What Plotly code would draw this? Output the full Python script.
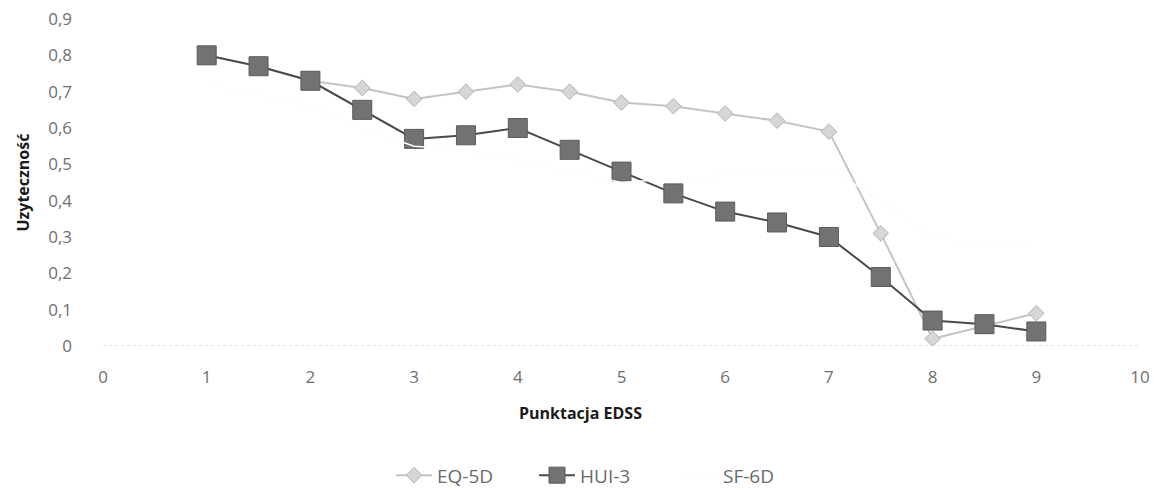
import plotly.graph_objects as go

# EDSS score steps
edss = [1, 1.5, 2, 2.5, 3, 3.5, 4, 4.5, 5, 5.5, 6, 6.5, 7, 7.5, 8, 8.5, 9]

# Mean utility per instrument
eq5d = [0.80, 0.77, 0.73, 0.71, 0.68, 0.70, 0.72, 0.70, 0.67, 0.66, 0.64, 0.62, 0.59, 0.31, 0.02, 0.055, 0.09]
hui3 = [0.80, 0.77, 0.73, 0.65, 0.57, 0.58, 0.60, 0.54, 0.48, 0.42, 0.37, 0.34, 0.30, 0.19, 0.07, 0.06, 0.04]
sf6d = [0.72, 0.69, 0.66, 0.60, 0.55, 0.54, 0.51, 0.48, 0.45, 0.46, 0.47, 0.48, 0.49, 0.40, 0.30, 0.28, 0.27]

x_ticks = list(range(0, 11))
y_ticks = [i / 10 for i in range(0, 10)]
y_tick_text = ["0"] + [f"0,{i}" for i in range(1, 10)]

tick_font = dict(family="Open Sans", size=17, color="#707070")
title_font = dict(family="Open Sans", size=16, color="#1a1a1a", weight="bold")

fig = go.Figure()

fig.add_trace(go.Scatter(
    x=edss, y=eq5d, name="EQ-5D", mode="lines+markers",
    line=dict(color="#c4c4c4", width=2),
    marker=dict(symbol="diamond", size=12, color="#d6d6d6",
                line=dict(color="#b4b4b4", width=1)),
))
fig.add_trace(go.Scatter(
    x=edss, y=hui3, name="HUI-3", mode="lines+markers",
    line=dict(color="#4a4a4a", width=2),
    marker=dict(symbol="square", size=19, color="#727272",
                line=dict(color="#5a5a5a", width=1)),
))
fig.add_trace(go.Scatter(
    x=edss, y=sf6d, name="SF-6D", mode="lines",
    line=dict(color="#fdfdfd", width=1.5),
))

# faint dotted baseline along the category axis
fig.add_shape(type="line", xref="x", yref="y", x0=0, x1=10, y0=0, y1=0,
              line=dict(color="#c8c8c8", width=1, dash="dot"), layer="below")

# axis titles
fig.add_annotation(text="Punktacja EDSS", xref="paper", yref="paper",
                   x=0.46, y=-0.205, xanchor="center", yanchor="middle",
                   showarrow=False, font=title_font)
fig.add_annotation(text="Uzyteczność", xref="paper", yref="paper",
                   x=-0.078, y=0.5, xanchor="center", yanchor="middle",
                   textangle=-90, showarrow=False, font=title_font)

fig.update_layout(
    width=1160, height=490,
    margin=dict(l=103, r=20, t=19, b=144, autoexpand=False),
    paper_bgcolor="white", plot_bgcolor="white",
    showlegend=True,
    legend=dict(orientation="h", x=0.522, xref="container", xanchor="center",
                y=0.03, yref="container", yanchor="middle",
                font=dict(family="Open Sans", size=19, color="#6a6a6a"),
                itemwidth=36, entrywidth=92),
    xaxis=dict(range=[0, 10], tickvals=x_ticks, showgrid=False, zeroline=False,
               showline=False, ticks="", tickfont=tick_font, ticklabelstandoff=19,
               automargin=False),
    yaxis=dict(range=[0, 0.9], tickvals=y_ticks, ticktext=y_tick_text,
               showgrid=False, zeroline=False, showline=False, ticks="",
               tickfont=tick_font, ticklabelstandoff=30, automargin=False),
)

fig.write_html("out.html")
